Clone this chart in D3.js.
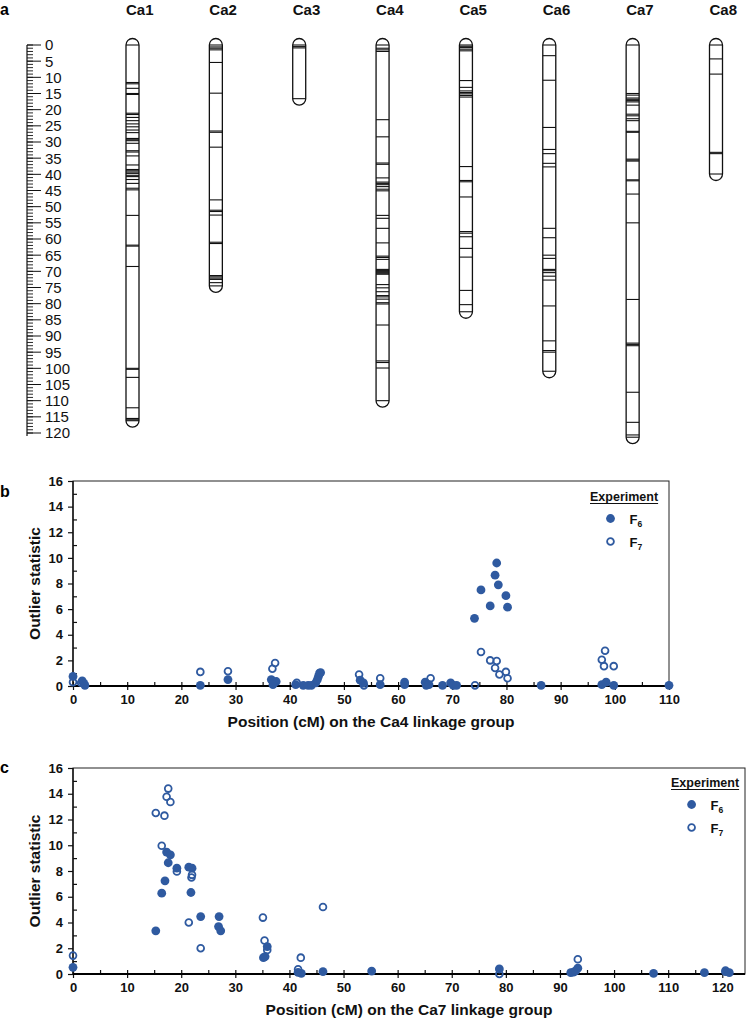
<!DOCTYPE html>
<html><head><meta charset="utf-8">
<script src="https://cdn.jsdelivr.net/npm/d3@7"></script>
<style>body{margin:0;background:#fff} svg{display:block} text{font-family:"Liberation Sans",Arial,sans-serif}</style>
</head><body><svg id="c" width="748" height="1018"></svg>
<script>
// ---------- Panel a data ----------
const rulerLabels = [0,5,10,15,20,25,30,35,40,45,50,55,60,65,70,75,80,85,90,95,100,105,110,115,120];
const chromNames = ["Ca1","Ca2","Ca3","Ca4","Ca5","Ca6","Ca7","Ca8"];
const chromLengths = [116.2, 74.5, 16.6, 110, 82.5, 100.9, 121.3, 39.9];
const ca1Markers = [0,11.6,12.0,13.4,15.0,15.3,21.1,21.5,22.4,23.4,24.4,25.3,26.3,27.1,28.9,29.3,29.6,30.4,32.7,33.1,34.3,37.1,38.5,38.9,39.3,39.7,40.3,40.7,41.6,42.8,44.3,44.8,52.7,61.9,62.2,68.5,100.0,100.3,102.8,112.2,115.5,115.9];
const ca2Markers = [0,0.6,1.0,1.5,5.4,14.9,26.6,27.0,31.6,47.9,51.1,51.5,52.6,61.0,61.4,71.3,71.7,72.1,72.5,73.5];
const ca3Markers = [0,0.5,0.9];
const ca4Markers = [0,1.0,1.5,2.0,23.1,28.4,36.5,36.9,41.1,42.4,42.8,43.2,43.8,44.6,45.1,52.7,53.6,56.7,61.2,65.3,65.7,66.3,69.4,69.7,70.0,70.3,70.6,70.9,74.1,75.1,76.3,77.5,77.9,78.6,79.7,80.1,86.6,97.7,98.2,99.9];
const ca5Markers = [0,0.4,0.8,1.3,1.8,11.0,13.1,14.2,14.7,15.1,15.6,16.1,37.6,41.9,42.3,47.0,57.7,58.2,59.3,62.9,65.6,75.9,80.3];
const ca6Markers = [0,3.3,10.9,25.5,32.3,33.6,36.6,37.7,56.7,59.6,65.0,66.0,69.4,69.8,70.4,71.5,72.7,80.7,91.5,94.5,95.0];
const ca7Markers = [0,15.0,15.5,16.4,16.8,17.2,17.6,18.6,21.4,21.9,22.8,23.4,26.7,27.0,35.3,35.6,35.9,41.7,42.0,46.1,55.0,78.7,92.2,92.6,93.0,107.4,116.7,120.6];
const ca8Markers = [0,4.3,9.0,33.2,33.6];
const chromMarkers = [ca1Markers,ca2Markers,ca3Markers,ca4Markers,ca5Markers,ca6Markers,ca7Markers,ca8Markers];

// ---------- Panels b & c data ----------
const yTicks = [0,2,4,6,8,10,12,14,16];
const yMinorTicks = [1,3,5,7,9,11,13,15];
const ca4Ticks = [0,10,20,30,40,50,60,70,80,90,100,110];
const ca7Ticks = [0,10,20,30,40,50,60,70,80,90,100,110,120];
const ca4MinorTicks = [5,15,25,35,45,55,65,75,85,95,105];
const ca7MinorTicks = [5,15,25,35,45,55,65,75,85,95,105,115];
const ca4F6 = [[0,0.75],[1.7,0.4],[2.0,0.2],[2.2,0.05],[23.5,0.05],[28.6,0.5],[36.6,0.5],[37.0,0.25],[37.5,0.35],[36.9,0.1],[41.1,0.1],[42.5,0.05],[43.4,0.05],[44.0,0.05],[44.8,0.25],[45.1,0.5],[45.3,0.75],[45.5,1.0],[45.7,1.05],[53.0,0.45],[53.6,0.25],[56.7,0.1],[61.2,0.3],[61.2,0.1],[65.0,0.3],[65.2,0.05],[65.7,0.1],[68.2,0.05],[69.7,0.25],[70.2,0.05],[70.8,0.05],[74.1,5.28],[75.3,7.5],[77.0,6.25],[77.9,8.65],[78.2,9.6],[78.5,7.9],[79.9,7.05],[80.2,6.15],[86.4,0.05],[97.6,0.1],[98.4,0.3],[99.8,0.05],[110,0.05]];
const ca4F7 = [[0,0.3],[1.5,0.25],[23.5,1.1],[28.6,1.15],[36.8,1.35],[37.3,1.8],[41.3,0.25],[52.8,0.9],[53.7,0.05],[56.7,0.6],[66.0,0.6],[74.2,0.05],[75.3,2.65],[77.0,2.0],[78.2,1.95],[77.9,1.4],[78.7,0.9],[79.9,1.1],[80.2,0.6],[97.6,2.05],[98.2,2.75],[98.0,1.55],[99.8,1.55]];
const ca7F6 = [[0,0.52],[15.3,3.35],[16.4,6.28],[17.0,7.24],[17.3,9.47],[18.0,9.26],[17.6,8.64],[19.2,8.22],[21.4,8.3],[22.0,8.22],[21.8,6.33],[23.6,4.46],[27.0,4.46],[26.9,3.68],[27.3,3.35],[35.9,2.13],[35.2,1.27],[35.5,1.35],[41.6,0.13],[42.2,0.05],[46.2,0.18],[55.2,0.23],[78.8,0.39],[92.0,0.1],[92.5,0.15],[92.9,0.25],[93.3,0.45],[107.3,0.05],[116.7,0.1],[120.6,0.18],[121.3,0.1]];
const ca7F7 = [[0,1.43],[15.3,12.5],[16.4,9.96],[16.9,12.3],[17.3,13.77],[17.6,14.4],[18.0,13.36],[19.2,7.96],[22.0,7.7],[21.9,7.5],[21.4,4.0],[23.6,2.0],[35.1,4.38],[35.4,2.6],[35.9,1.87],[41.6,0.36],[42.1,1.27],[46.2,5.2],[78.8,0.0],[93.3,1.14],[120.6,0.26]];
const legendTitle = "Experiment";
const seriesLabels = ["6","7"];

const BLUE = "#2f5aa0";
const svg = d3.select("#c");

// ---------- Panel a ----------
const yA = d3.scaleLinear().domain([0,120]).range([45,433]);
const xA = d3.scalePoint().domain(chromNames).range([132.5,716]);
const gA = svg.append("g");
gA.append("text").attr("x",0).attr("y",15).attr("font-weight","bold").attr("font-size",16).text("a");
gA.append("line").attr("x1",27).attr("x2",27).attr("y1",yA(0)).attr("y2",yA(120)+3).attr("stroke","#111").attr("stroke-width",1.2);
gA.selectAll("line.minor").data(yA.ticks(120)).join("line").attr("class","minor")
  .attr("x1",27).attr("x2",33).attr("y1",d=>yA(d)).attr("y2",d=>yA(d)).attr("stroke","#111").attr("stroke-width",0.9);
gA.selectAll("line.major").data(rulerLabels).join("line").attr("class","major")
  .attr("x1",27).attr("x2",41).attr("y1",d=>yA(d)).attr("y2",d=>yA(d)).attr("stroke","#111").attr("stroke-width",1);
gA.selectAll("text.rl").data(rulerLabels).join("text").attr("class","rl")
  .attr("x",45).attr("y",d=>yA(d)).attr("dy","0.36em").attr("font-size",15).attr("fill","#111").text(d=>d);

chromNames.forEach((name,i)=>{
  const cx = xA(name), L = chromLengths[i], hw = 6.5;
  const g = gA.append("g");
  g.append("text").attr("x",cx-hw).attr("y",15).attr("font-weight","bold").attr("font-size",15).attr("fill","#111").text(name);
  g.append("rect").attr("x",cx-hw).attr("y",yA(0)-hw).attr("width",hw*2).attr("height",yA(L)-yA(0)+hw*2)
    .attr("rx",hw).attr("ry",hw).attr("fill","#fff").attr("stroke","#111").attr("stroke-width",1.3);
  g.selectAll("line").data(chromMarkers[i].concat([L])).join("line")
    .attr("x1",cx-hw).attr("x2",cx+hw).attr("y1",d=>yA(d)).attr("y2",d=>yA(d))
    .attr("stroke","#111").attr("stroke-width",1.1);
});

// ---------- Panels b, c ----------
function panel(cfg){
  const left = 73;
  const x = d3.scaleLinear().domain([0,cfg.xMax]).range([left,cfg.right]);
  const y = d3.scaleLinear().domain([0,16]).range([cfg.bottom,cfg.top]);
  const g = svg.append("g");
  g.append("text").attr("x",0).attr("y",cfg.letterY).attr("font-weight","bold").attr("font-size",16).text(cfg.letter);
  g.append("rect").attr("x",left).attr("y",cfg.top).attr("width",cfg.right-left).attr("height",cfg.bottom-cfg.top)
    .attr("fill","none").attr("stroke","#222").attr("stroke-width",1);
  const ya = g.append("g").attr("transform",`translate(${left},0)`)
    .call(d3.axisLeft(y).tickValues(yTicks).tickSize(5).tickPadding(5).tickFormat(d3.format("d")));
  const ym = g.append("g").attr("transform",`translate(${left},0)`)
    .call(d3.axisRight(y).tickValues(yMinorTicks).tickSize(4).tickFormat(""));
  const xa = g.append("g").attr("transform",`translate(0,${cfg.bottom})`)
    .call(d3.axisBottom(x).tickValues(cfg.xTicks).tickSize(4).tickPadding(5).tickFormat(d3.format("d")));
  const xm = g.append("g").attr("transform",`translate(0,${cfg.bottom})`)
    .call(d3.axisTop(x).tickValues(cfg.xTicks.concat(cfg.xMinor)).tickSize(4).tickFormat(""));
  [ya,ym,xa,xm].forEach(a=>{
    a.select(".domain").remove();
    a.selectAll(".tick line").attr("stroke","#111").attr("stroke-width",1.2);
    a.selectAll("text").attr("font-size",13).attr("font-weight","bold").attr("fill","#111")
      .attr("font-family",'"Liberation Sans",Arial,sans-serif');
  });
  g.append("line").attr("x1",left).attr("x2",left).attr("y1",cfg.top).attr("y2",cfg.bottom).attr("stroke","#111").attr("stroke-width",1.4);
  g.append("line").attr("x1",left).attr("x2",cfg.right).attr("y1",cfg.bottom).attr("y2",cfg.bottom).attr("stroke","#000").attr("stroke-width",2.2);
  // points
  g.selectAll("circle.f6").data(cfg.f6).join("circle").attr("class","f6")
    .attr("cx",d=>x(d[0])).attr("cy",d=>y(d[1])).attr("r",4.4).attr("fill",BLUE);
  g.selectAll("circle.f7").data(cfg.f7).join("circle").attr("class","f7")
    .attr("cx",d=>x(d[0])).attr("cy",d=>y(d[1])).attr("r",3.4).attr("fill","none").attr("stroke",BLUE).attr("stroke-width",1.8);
  // labels
  g.append("text").attr("x",(left+cfg.right)/2).attr("y",cfg.xlabelY).attr("text-anchor","middle")
    .attr("font-weight","bold").attr("font-size",15.5).attr("fill","#111").text(cfg.xlabel);
  g.append("text").attr("transform",`translate(34,${(cfg.top+cfg.bottom)/2}) rotate(-90)`).attr("dy","0.36em")
    .attr("text-anchor","middle").attr("font-weight","bold").attr("font-size",15.5).attr("fill","#111").text("Outlier statistic");
  // legend
  const lg = g.append("g");
  const t = lg.append("text").attr("x",cfg.legX).attr("y",cfg.legY).attr("font-weight","bold").attr("font-size",12.5).attr("fill","#111").text(legendTitle);
  const w = t.node().getComputedTextLength();
  lg.append("line").attr("x1",cfg.legX).attr("x2",cfg.legX+w).attr("y1",cfg.legY+2.5).attr("y2",cfg.legY+2.5).attr("stroke","#111").attr("stroke-width",1);
  seriesLabels.forEach((s,i)=>{
    const cy = cfg.legY + 17.5 + i*23;
    const c = lg.append("circle").attr("cx",cfg.legMX).attr("cy",cy);
    if(i===0) c.attr("r",4.4).attr("fill",BLUE);
    else c.attr("r",3.4).attr("fill","none").attr("stroke",BLUE).attr("stroke-width",1.8);
    const tt = lg.append("text").attr("x",cfg.legMX+19).attr("y",cy+5).attr("font-weight","bold").attr("font-size",13).attr("fill","#111");
    tt.append("tspan").text("F");
    tt.append("tspan").attr("font-size",8.5).attr("dy",3).text(s);
  });
}

panel({letter:"b", letterY:497, top:481, bottom:686, right:669, xMax:110, xTicks:ca4Ticks, xMinor:ca4MinorTicks,
  f6:ca4F6, f7:ca4F7, xlabel:"Position (cM) on the Ca4 linkage group", xlabelY:727, legX:590, legY:501, legMX:610.5});
panel({letter:"c", letterY:773, top:768, bottom:974, right:745, xMax:124.2, xTicks:ca7Ticks, xMinor:ca7MinorTicks,
  f6:ca7F6, f7:ca7F7, xlabel:"Position (cM) on the Ca7 linkage group", xlabelY:1015, legX:671, legY:787, legMX:691.6});
</script></body></html>
